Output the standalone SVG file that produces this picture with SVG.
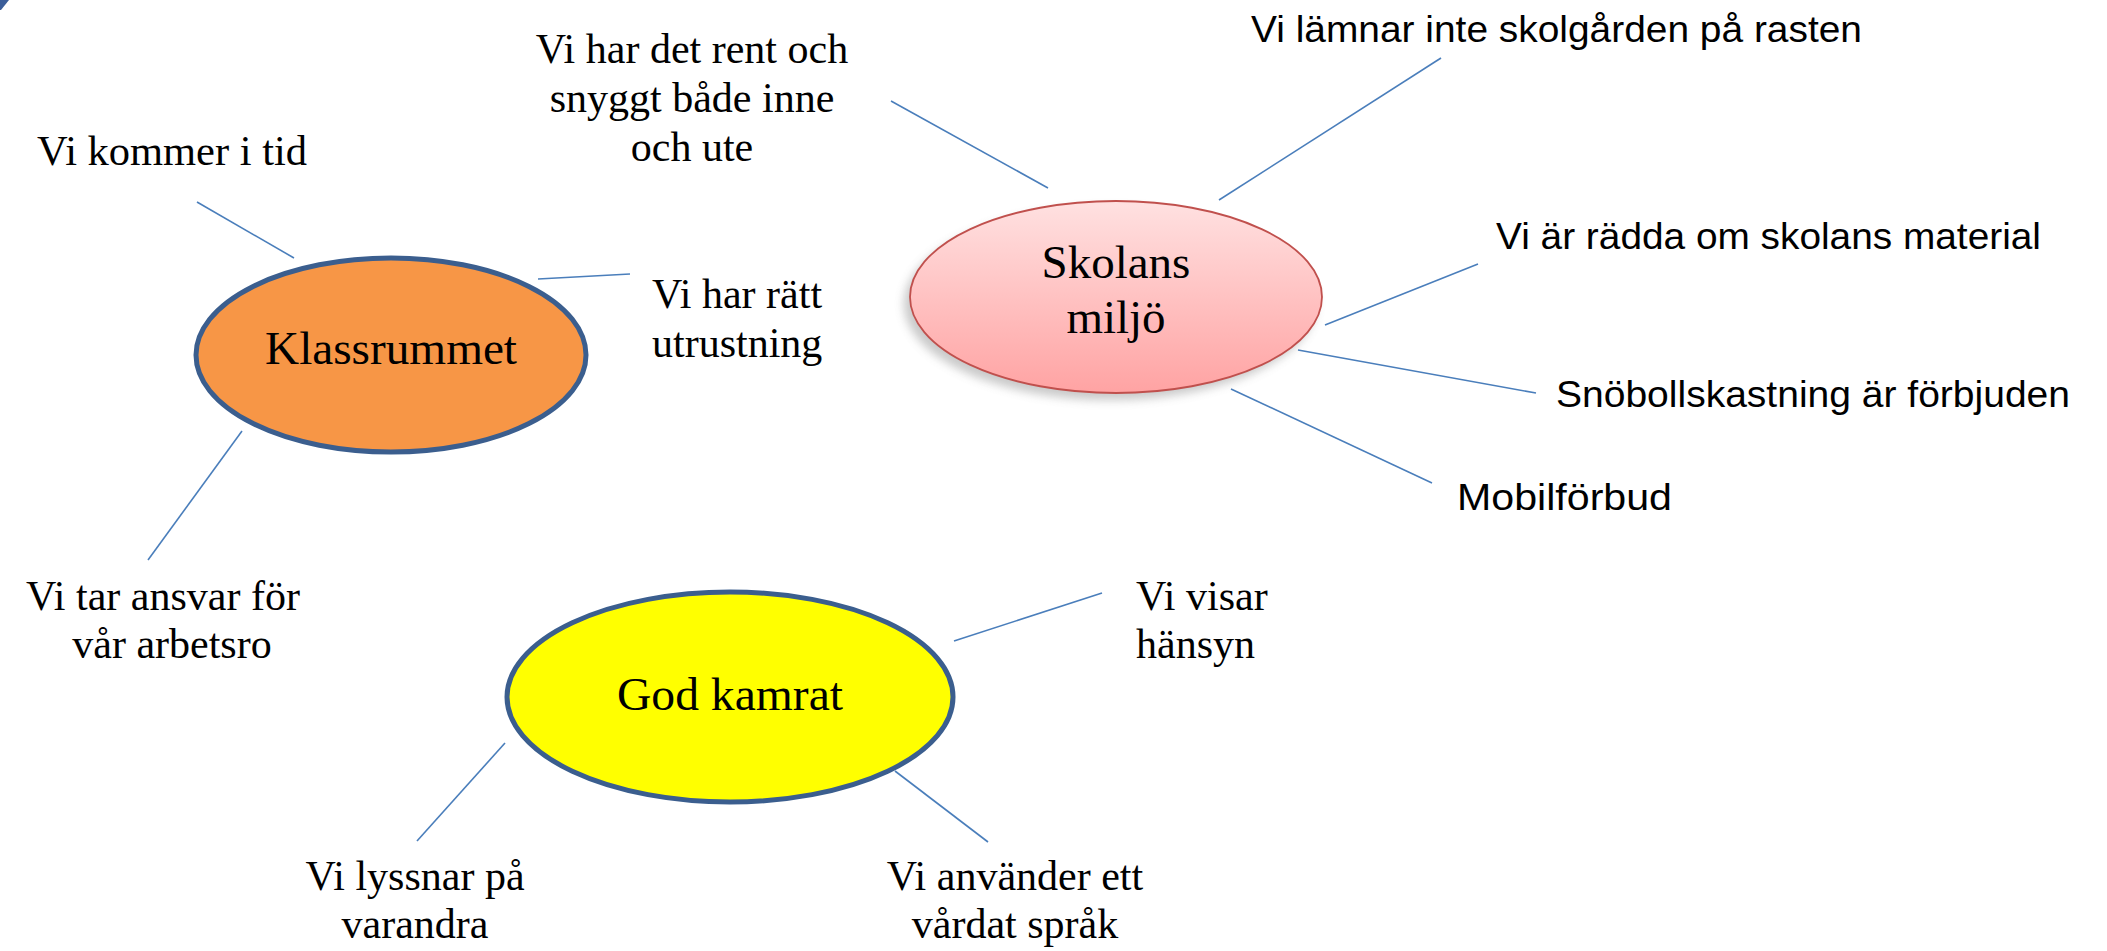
<svg xmlns="http://www.w3.org/2000/svg" width="2107" height="951" viewBox="0 0 2107 951">
<defs>
<linearGradient id="pink" x1="0" y1="0" x2="0" y2="1">
<stop offset="0" stop-color="#FFE1E1"/>
<stop offset="1" stop-color="#FFA3A3"/>
</linearGradient>
<filter id="shadow" x="-20%" y="-20%" width="140%" height="140%">
<feGaussianBlur stdDeviation="5"/>
</filter>
<style>
.serif{font-family:"Liberation Serif","Times New Roman",serif;font-size:42px;fill:#000}
.center{font-family:"Liberation Serif","Times New Roman",serif;font-size:47px;fill:#000;text-anchor:middle}
.sans{font-family:"Liberation Sans",Arial,sans-serif;font-size:36px;fill:#000}
.conn line{stroke:#4A7EBB;stroke-width:1.6;fill:none}
.node-blue{stroke:#3B5E8E;stroke-width:5}
</style>
</defs>
<rect width="2107" height="951" fill="#ffffff"/>
<path d="M0,0 L9,0 Q5,5 1,10 L0,10 Z" fill="#3B5E9A"/>

<g id="connectors" class="conn">
<line x1="197" y1="202" x2="294" y2="258"/>
<line x1="538" y1="279" x2="630" y2="274"/>
<line x1="242" y1="431" x2="148" y2="560"/>
<line x1="891" y1="101" x2="1048" y2="188"/>
<line x1="1441" y1="58" x2="1219" y2="200"/>
<line x1="1478" y1="264" x2="1325" y2="325"/>
<line x1="1298" y1="350" x2="1536" y2="393"/>
<line x1="1231" y1="389" x2="1432" y2="483"/>
<line x1="1102" y1="593" x2="954" y2="641"/>
<line x1="505" y1="743" x2="417" y2="841"/>
<line x1="895" y1="771" x2="988" y2="842"/>
</g>

<g id="klassrummet">
<ellipse cx="391" cy="355" rx="195" ry="97" fill="#F79646" class="node-blue"/>
<text class="center" x="391" y="364" textLength="252" lengthAdjust="spacingAndGlyphs">Klassrummet</text>
</g>

<g id="skolans-miljo">
<ellipse cx="1110" cy="304" rx="206" ry="96" fill="#888" opacity="0.45" filter="url(#shadow)"/>
<ellipse cx="1116" cy="297" rx="206" ry="96" fill="url(#pink)" stroke="#C0504D" stroke-width="1.8"/>
<text class="center" x="1116" y="278">Skolans</text>
<text class="center" x="1116" y="333">miljö</text>
</g>

<g id="god-kamrat">
<ellipse cx="730" cy="697" rx="223" ry="105" fill="#FFFF00" class="node-blue"/>
<text class="center" x="730" y="710" textLength="226" lengthAdjust="spacingAndGlyphs">God kamrat</text>
</g>

<g id="t-kommer">
<text class="serif" x="37" y="165" textLength="270" lengthAdjust="spacingAndGlyphs">Vi kommer i tid</text>
</g>
<g id="t-rent">
<text class="serif" x="692" y="63" text-anchor="middle">Vi har det rent och</text>
<text class="serif" x="692" y="112" text-anchor="middle">snyggt både inne</text>
<text class="serif" x="692" y="161" text-anchor="middle">och ute</text>
</g>
<g id="t-ratt">
<text class="serif" x="652" y="308">Vi har rätt</text>
<text class="serif" x="652" y="357">utrustning</text>
</g>
<g id="t-ansvar">
<text class="serif" x="163" y="610" text-anchor="middle">Vi tar ansvar för</text>
<text class="serif" x="172" y="658" text-anchor="middle">vår arbetsro</text>
</g>
<g id="t-lamnar">
<text class="sans" x="1251" y="42" textLength="611" lengthAdjust="spacingAndGlyphs">Vi lämnar inte skolgården på rasten</text>
</g>
<g id="t-radda">
<text class="sans" x="1496" y="249" textLength="545" lengthAdjust="spacingAndGlyphs">Vi är rädda om skolans material</text>
</g>
<g id="t-snoboll">
<text class="sans" x="1556" y="407" textLength="514" lengthAdjust="spacingAndGlyphs">Snöbollskastning är förbjuden</text>
</g>
<g id="t-mobil">
<text class="sans" x="1457" y="510" textLength="215" lengthAdjust="spacingAndGlyphs">Mobilförbud</text>
</g>
<g id="t-hansyn">
<text class="serif" x="1136" y="610">Vi visar</text>
<text class="serif" x="1136" y="658">hänsyn</text>
</g>
<g id="t-lyssnar">
<text class="serif" x="415" y="890" text-anchor="middle">Vi lyssnar på</text>
<text class="serif" x="415" y="938" text-anchor="middle">varandra</text>
</g>
<g id="t-anvander">
<text class="serif" x="1015" y="890" text-anchor="middle">Vi använder ett</text>
<text class="serif" x="1015" y="938" text-anchor="middle">vårdat språk</text>
</g>
</svg>
